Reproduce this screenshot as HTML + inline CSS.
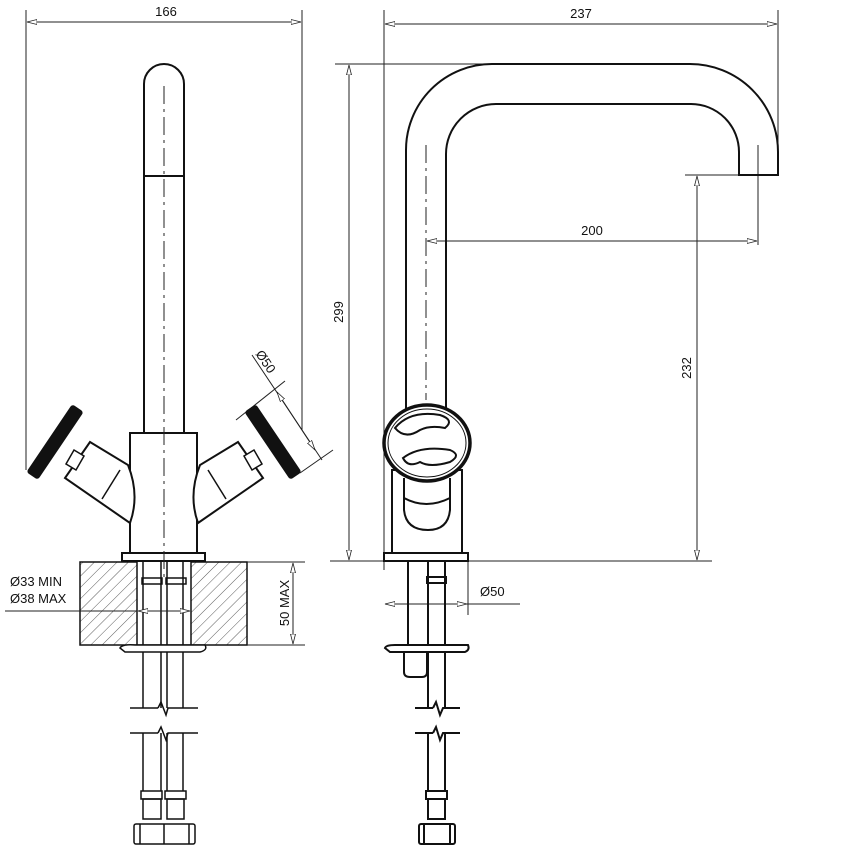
<!DOCTYPE html>
<html><head><meta charset="utf-8"><style>
html,body{margin:0;padding:0;background:#fff}
svg{display:block}
text{font-family:"Liberation Sans",sans-serif;font-size:13px;fill:#111}
</style></head><body>
<svg width="863" height="863" viewBox="0 0 863 863" xmlns="http://www.w3.org/2000/svg">
<defs>
<pattern id="h" width="8" height="8" patternUnits="userSpaceOnUse" patternTransform="rotate(45)">
<line x1="0" y1="0" x2="0" y2="8" stroke="#333" stroke-width="0.8"/>
</pattern>
<marker id="a" markerWidth="11" markerHeight="7" refX="10" refY="3" orient="auto-start-reverse" markerUnits="userSpaceOnUse">
<path d="M10,3 L0,0.5 L0,5.5 Z" fill="#fff" stroke="#222" stroke-width="0.8"/>
</marker>
</defs>
<g fill="none" stroke="#222" stroke-width="1">
<line x1="26" y1="10" x2="26" y2="470"/>
<line x1="302" y1="10" x2="302" y2="430"/>
<line x1="27" y1="22" x2="301" y2="22" marker-start="url(#a)" marker-end="url(#a)"/>
<line x1="252" y1="355" x2="322" y2="460"/>
<line x1="277" y1="392" x2="315" y2="450" marker-start="url(#a)" marker-end="url(#a)"/>
<line x1="236" y1="420" x2="285" y2="381"/>
<line x1="300" y1="473" x2="333" y2="450"/>
</g>
<text x="166" y="16" text-anchor="middle">166</text>
<text transform="translate(262,364) rotate(56)" text-anchor="middle">Ø50</text>

<g fill="none" stroke="#111" stroke-width="2">
<path d="M144,433 L144,84 A20,20 0 0 1 184,84 L184,433"/>
<line x1="144" y1="176" x2="184" y2="176"/>
<rect x="130" y="433" width="67" height="120" fill="#fff"/>
<rect x="122" y="553" width="83" height="8" fill="#fff"/>
<path d="M90,442 L128,465 Q140,495 130,523 L65,478 Z" fill="#fff"/>
<line x1="102" y1="499" x2="120" y2="470" stroke-width="1.5"/>
<path d="M238,442 L200,465 Q188,495 198,523 L263,478 Z" fill="#fff"/>
<line x1="226" y1="499" x2="208" y2="470" stroke-width="1.5"/>
<path d="M74,450 L84,456 L76,470 L66,464 Z" fill="#fff" stroke-width="1.5"/>
<path d="M254,450 L244,456 L252,470 L262,464 Z" fill="#fff" stroke-width="1.5"/>
</g>
<rect x="-41" y="-7" width="82" height="14" rx="3" fill="#111" transform="translate(55,442) rotate(-56)"/>
<rect x="-41" y="-7" width="82" height="14" rx="3" fill="#111" transform="translate(273,442) rotate(56)"/>
<line x1="164" y1="86" x2="164" y2="580" stroke="#222" stroke-width="1" stroke-dasharray="18,5,3,5"/>

<rect x="80" y="562" width="57" height="83" fill="url(#h)" stroke="#111" stroke-width="1.5"/>
<rect x="191" y="562" width="56" height="83" fill="url(#h)" stroke="#111" stroke-width="1.5"/>
<line x1="137" y1="645" x2="191" y2="645" stroke="#111" stroke-width="1.5"/>
<g fill="none" stroke="#111" stroke-width="1.5">
<line x1="143" y1="562" x2="143" y2="708"/><line x1="161" y1="562" x2="161" y2="708"/>
<line x1="167" y1="562" x2="167" y2="708"/><line x1="183" y1="562" x2="183" y2="708"/>
<rect x="142" y="578" width="20" height="6"/><rect x="166" y="578" width="20" height="6"/>
<path d="M120,648 Q122,644 135,645 L205,645 Q208,650 200,652 L125,652 Z" fill="#fff"/>
<line x1="130" y1="708" x2="158" y2="708"/><path d="M158,708 L161,702 L166,715 L168,708 L198,708"/>
<line x1="130" y1="733" x2="158" y2="733"/><path d="M158,733 L161,727 L166,740 L168,733 L198,733"/>
<line x1="143" y1="733" x2="143" y2="791"/><line x1="161" y1="733" x2="161" y2="791"/>
<line x1="167" y1="733" x2="167" y2="791"/><line x1="183" y1="733" x2="183" y2="791"/>
<rect x="141" y="791" width="21" height="8"/><rect x="165" y="791" width="21" height="8"/>
<rect x="143" y="799" width="18" height="20"/><rect x="167" y="799" width="17" height="20"/>
<rect x="134" y="824" width="61" height="20" rx="2"/>
<line x1="140" y1="824" x2="140" y2="844"/><line x1="164" y1="824" x2="164" y2="844"/><line x1="189" y1="824" x2="189" y2="844"/>
</g>
<g fill="none" stroke="#222" stroke-width="1">
<line x1="247" y1="562" x2="305" y2="562"/><line x1="247" y1="645" x2="305" y2="645"/>
<line x1="293" y1="563" x2="293" y2="644" marker-start="url(#a)" marker-end="url(#a)"/>
<line x1="5" y1="611" x2="137" y2="611"/>
<line x1="138" y1="611" x2="190" y2="611" marker-start="url(#a)" marker-end="url(#a)"/>
</g>
<text x="10" y="586">Ø33 MIN</text>
<text x="10" y="603">Ø38 MAX</text>
<text transform="translate(289,603) rotate(-90)" text-anchor="middle">50 MAX</text>

<g fill="none" stroke="#222" stroke-width="1">
<line x1="384" y1="10" x2="384" y2="570"/>
<line x1="778" y1="10" x2="778" y2="150"/>
<line x1="385" y1="24" x2="777" y2="24" marker-start="url(#a)" marker-end="url(#a)"/>
<line x1="335" y1="64" x2="490" y2="64"/>
<line x1="349" y1="65" x2="349" y2="560" marker-start="url(#a)" marker-end="url(#a)"/>
<line x1="330" y1="561" x2="712" y2="561"/>
<line x1="685" y1="175" x2="739" y2="175"/>
<line x1="697" y1="176" x2="697" y2="560" marker-start="url(#a)" marker-end="url(#a)"/>
<line x1="758" y1="145" x2="758" y2="245"/>
<line x1="427" y1="241" x2="757" y2="241" marker-start="url(#a)" marker-end="url(#a)"/>
<line x1="468" y1="561" x2="468" y2="615"/>
<line x1="385" y1="604" x2="467" y2="604" marker-start="url(#a)" marker-end="url(#a)"/>
<line x1="467" y1="604" x2="520" y2="604"/>
</g>
<text x="581" y="18" text-anchor="middle">237</text>
<text x="592" y="235" text-anchor="middle">200</text>
<text transform="translate(343,312) rotate(-90)" text-anchor="middle">299</text>
<text transform="translate(691,368) rotate(-90)" text-anchor="middle">232</text>
<text x="480" y="596">Ø50</text>

<g fill="none" stroke="#111" stroke-width="2">
<path d="M406,410 L406,150 A86,86 0 0 1 492,64 L690,64 A88,88 0 0 1 778,152 L778,175 L739,175 L739,152 A48,48 0 0 0 691,104 L496,104 A50,50 0 0 0 446,154 L446,410"/>
<rect x="392" y="470" width="70" height="83" fill="#fff"/>
<path d="M404,478 L404,510 Q406,530 428,530 Q448,530 450,510 L450,478" fill="#fff"/>
<path d="M404,498 Q426,510 450,498" />
<rect x="384" y="553" width="84" height="8" fill="#fff"/>
<ellipse cx="427" cy="443" rx="43" ry="38" fill="#fff" stroke-width="3.5"/>
<ellipse cx="427" cy="443" rx="39" ry="34" stroke-width="1"/>
<path d="M395,428 Q410,410 440,415 Q455,420 445,428 Q430,425 420,430 Q405,440 395,428 Z"/>
<path d="M403,458 Q420,445 450,450 Q462,455 450,462 Q430,468 420,462 Q408,468 403,458 Z"/>
<line x1="408" y1="561" x2="408" y2="645"/><line x1="428" y1="561" x2="428" y2="708"/><line x1="445" y1="561" x2="445" y2="708"/>
<rect x="427" y="577" width="19" height="6"/>
<path d="M385,648 Q386,645 395,645 L468,645 Q470,650 465,652 L390,652 Z" fill="#fff"/>
<path d="M404,652 L404,672 Q404,677 410,677 L422,677 Q427,677 427,672 L427,652"/>
<line x1="415" y1="708" x2="433" y2="708"/><path d="M433,708 L436,702 L440,715 L443,708 L460,708"/>
<line x1="415" y1="733" x2="433" y2="733"/><path d="M433,733 L436,727 L440,740 L443,733 L460,733"/>
<line x1="428" y1="733" x2="428" y2="791"/><line x1="445" y1="733" x2="445" y2="791"/>
<rect x="426" y="791" width="21" height="8"/>
<rect x="428" y="799" width="17" height="20"/>
<rect x="419" y="824" width="36" height="20" rx="2"/>
<line x1="424" y1="824" x2="424" y2="844"/><line x1="450" y1="824" x2="450" y2="844"/>
</g>
<line x1="426" y1="145" x2="426" y2="400" stroke="#222" stroke-width="1" stroke-dasharray="18,5,3,5"/>
</svg>
</body></html>
